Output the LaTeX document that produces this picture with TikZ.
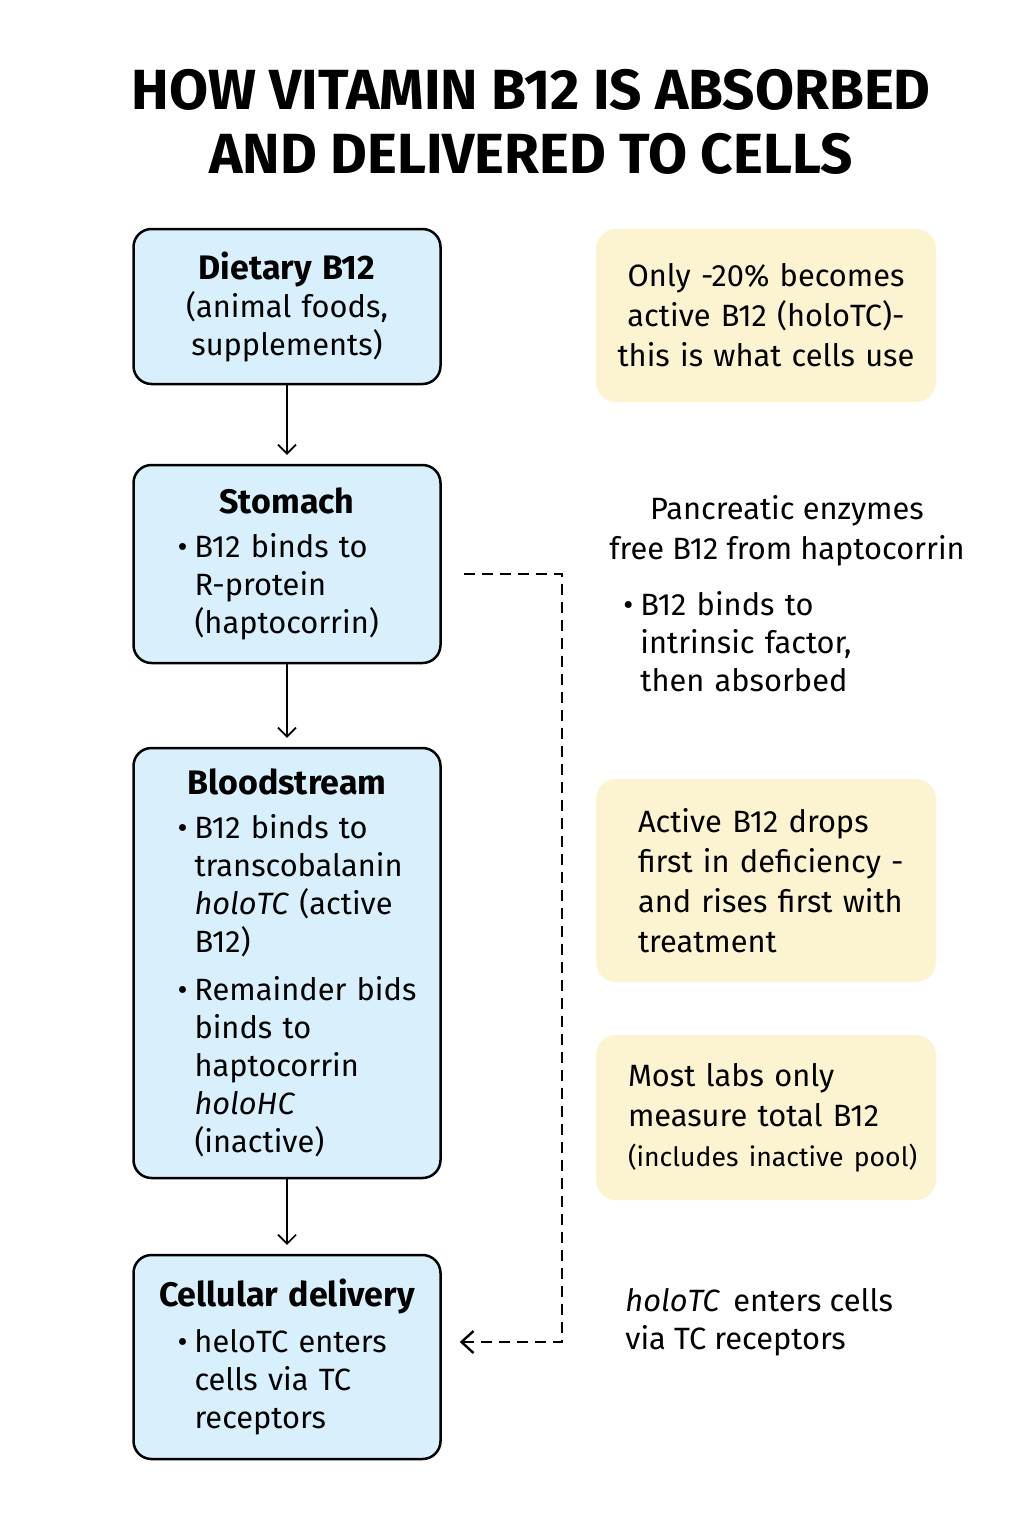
\documentclass[tikz,border=0pt]{standalone}
\usepackage{fontspec}
\setmainfont{Fira Sans}
\usetikzlibrary{arrows.meta}
\definecolor{boxblue}{HTML}{D7F0FB}
\definecolor{notebg}{HTML}{FCF3D0}

\newcommand\bodyfont{\fontsize{15.4pt}{19pt}\selectfont}
\newcommand\boxhead[2][0pt]{{\centering\fontsize{17pt}{19pt}\selectfont\bfseries #2\par}\vspace{#1}}
\newcommand\bitem[2][12pt]{\par\raggedright\hangindent=\dimexpr#1+8.5pt\relax\hangafter=1\noindent\hspace*{#1}\makebox[8.5pt][l]{\textbullet}#2\par}

\begin{document}
\begin{tikzpicture}[x=0.5pt,y=-0.5pt,
    bluebox/.style={draw,line width=1.25pt,fill=boxblue,rounded corners=9pt,
        text width=133.5pt,inner xsep=10pt,inner ysep=0pt,font=\bodyfont,
        execute at begin node={\parindent=0pt}},
    notebox/.style={fill=notebg,rounded corners=10pt,minimum width=170pt,
        inner ysep=0pt,font=\fontsize{15.4pt}{20pt}\selectfont},
    leftnote/.style={notebox,text width=149pt,inner xsep=10.5pt,
        execute at begin node={\raggedright\leftskip=#1\parindent=0pt}},
    freetext/.style={inner sep=0pt,font=\fontsize{15.4pt}{19pt}\selectfont,
        execute at begin node={\parindent=0pt}},
    flowarrow/.style={line width=0.8pt,-{Straight Barb[length=4.5pt,width=9pt]},shorten >=4.5pt},
    backarrow/.style={line width=1.2pt,dash pattern=on 5.5pt off 3.5pt,-{Straight Barb[length=6pt,width=11pt]}}]
  \fill[white] (0,0) rectangle (1024,1536);
  \useasboundingbox (0,0) rectangle (1024,1536);

  % title
  \node[align=center,font=\fontsize{28.3pt}{32pt}\selectfont\bfseries] (title) at (531,122)
    {HOW VITAMIN B12 IS ABSORBED\\AND DELIVERED TO CELLS};

  % main flow
  \node[bluebox,minimum height=77.5pt] (dietary) at (287,306.5)
    {\boxhead{Dietary B12}{\centering(animal foods,\\supplements)\par}};
  \node[bluebox,minimum height=99pt] (stomach) at (287,564)
    {\boxhead[3pt]{Stomach}\bitem{B12 binds to\newline R-protein\newline (haptocorrin)}};
  \node[bluebox,minimum height=215pt] (blood) at (287,963)
    {\boxhead[3pt]{Bloodstream}\bitem{B12 binds to\newline transcobalanin\newline \textit{holoTC} (active\newline B12)}\vspace{5pt}%
     \bitem{Remainder bids\newline binds to\newline haptocorrin\newline \textit{holoHC}\newline (inactive)}};
  \node[bluebox,minimum height=102pt] (cellular) at (287,1357)
    {\boxhead[4pt]{Cellular delivery}\bitem{heloTC enters\newline cells via TC\newline receptors}};

  \draw[flowarrow] (dietary) -- (stomach);
  \draw[flowarrow] (stomach) -- (blood);
  \draw[flowarrow] (blood) -- (cellular);

  % side notes
  \node[notebox,minimum height=86.5pt,text width=150pt,align=center] (onlynote) at (766,315.5)
    {Only -20\% becomes\\active B12 (holoTC)-\\this is what cells use};
  \node[freetext,align=center,font=\fontsize{15.4pt}{20pt}\selectfont] (pancreas) at (787,531)
    {Pancreatic enzymes\\free B12 from haptocorrin};
  \node[freetext,text width=170pt,anchor=west] (intrinsic) at (611,635)
    {\bitem[6pt]{B12 binds to\newline intrinsic factor,\newline then absorbed}};
  \node[leftnote=10.5pt,minimum height=101.5pt] (dropnote) at (766,880.5)
    {Active B12 drops\newline first in deficiency -\newline and rises first with\newline treatment};
  \node[leftnote=5.5pt,minimum height=82.5pt] (labnote) at (766,1117.5)
    {Most labs only\newline measure total B12\newline \mbox{\fontsize{13.3pt}{20pt}\selectfont(includes inactive pool)}};
  \node[freetext,align=left,anchor=west] (receptors) at (625,1322)
    {\textit{holoTC}\, enters cells\\via TC receptors};

  % dashed return path
  \coordinate (rail) at (562,950);
  \draw[backarrow] ([xshift=11pt,yshift=-5pt]stomach.east) -| (rail) |- ([xshift=9pt,yshift=7.5pt]cellular.east);
\end{tikzpicture}
\end{document}
